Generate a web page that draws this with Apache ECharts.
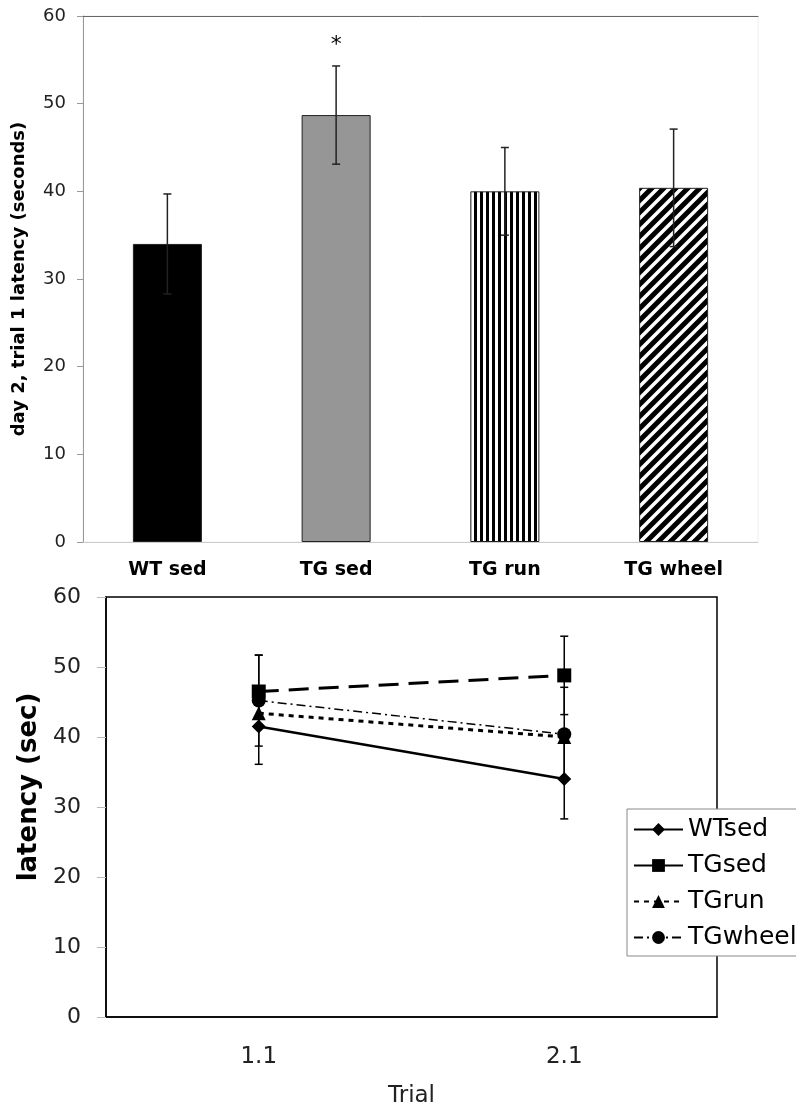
<!DOCTYPE html>
<html>
<head>
<meta charset="utf-8">
<script src="https://cdn.jsdelivr.net/npm/echarts@6/dist/echarts.min.js"></script>
<style>
html, body { margin: 0; padding: 0; background: #fff; }
#chart { width: 796px; height: 1115px; }
</style>
</head>
<body>
<div id="chart"></div>
<script>
// top panel: day 2, trial 1 latency per group
var groups = ['WT sed', 'TG sed', 'TG run', 'TG wheel'];
var day2Mean = [34.0, 48.7, 40.0, 40.4];
var day2Sem = [5.7, 5.6, 5.0, 6.7];
var day2Sig = ['', '*', '', ''];

// bottom panel: latency per trial
var trials = ['1.1', '2.1'];
var wtSed = [41.5, 34.0];
var tgSed = [46.5, 48.8];
var tgRun = [43.4, 40.0];
var tgWheel = [45.2, 40.4];
var wtSedErr = [5.4, 5.7];
var tgSedErr = [5.2, 5.6];
var tgWheelErr = [6.5, 6.7];

// shared y scale (seconds)
var yMin = 0, yMax = 60, yStep = 10;

// hatch fills for the striped bars
function tile(w, h, draw) {
  var c = document.createElement('canvas');
  c.width = w; c.height = h;
  var g = c.getContext('2d');
  g.fillStyle = '#fff';
  g.fillRect(0, 0, w, h);
  draw(g);
  return c;
}
var vStripe = tile(6, 6, function (g) {
  g.fillStyle = '#000';
  g.fillRect(0, 0, 3, 6);
});
var dStripe = tile(12, 12, function (g) {
  g.strokeStyle = '#000';
  g.lineWidth = 5;
  g.beginPath();
  g.moveTo(-3, 15); g.lineTo(15, -3);
  g.moveTo(-3, 3); g.lineTo(3, -3);
  g.moveTo(9, 15); g.lineTo(15, 9);
  g.stroke();
});
var barFill = ['#000', '#969696', { image: vStripe, repeat: 'repeat' }, { image: dStripe, repeat: 'repeat' }];

function errorBars(capHalf, color, width) {
  return function (params, api) {
    var x = api.value(0), m = api.value(1), e = api.value(2);
    var hi = api.coord([x, m + e]);
    var lo = api.coord([x, m - e]);
    var st = { stroke: color, lineWidth: width };
    return {
      type: 'group',
      children: [
        { type: 'line', shape: { x1: hi[0], y1: hi[1], x2: lo[0], y2: lo[1] }, style: st },
        { type: 'line', shape: { x1: hi[0] - capHalf, y1: hi[1], x2: hi[0] + capHalf, y2: hi[1] }, style: st },
        { type: 'line', shape: { x1: lo[0] - capHalf, y1: lo[1], x2: lo[0] + capHalf, y2: lo[1] }, style: st }
      ]
    };
  };
}

function withErr(means, errs) {
  return means.map(function (v, i) { return [i, v, errs[i]]; });
}

var chart = echarts.init(document.getElementById('chart'));
var font = 'DejaVu Sans';

var option = {
  animation: false,
  textStyle: { fontFamily: font },
  grid: [
    { left: 83, top: 16, width: 675, height: 526, show: true, borderColor: '#eee', borderWidth: 1, outerBoundsMode: 'none' },
    { left: 106, top: 597, width: 611, height: 420, show: true, borderColor: '#000', borderWidth: 1.5, outerBoundsMode: 'none' }
  ],
  legend: {
    orient: 'vertical',
    left: 627,
    top: 809,
    data: ['WTsed', 'TGsed', 'TGrun', 'TGwheel'],
    borderColor: '#888',
    borderWidth: 1,
    borderRadius: 0,
    backgroundColor: '#fff',
    padding: [8, 30, 6, 6],
    itemWidth: 49,
    itemHeight: 16,
    itemGap: 11,
    textStyle: { fontSize: 25, color: '#000', fontFamily: font }
  },
  xAxis: [
    {
      gridIndex: 0, type: 'category', data: groups,
      axisLine: { lineStyle: { color: '#ccc', width: 1 } },
      axisTick: { length: 6, lineStyle: { color: '#bbb' } },
      axisLabel: { margin: 19, fontSize: 19, fontWeight: 'bold', color: '#000', fontFamily: font }
    },
    {
      gridIndex: 0, type: 'category', data: groups, position: 'top',
      axisLine: { lineStyle: { color: '#666', width: 1 } },
      axisTick: { show: false }, axisLabel: { show: false }
    },
    {
      gridIndex: 1, type: 'category', data: trials,
      name: 'Trial', nameLocation: 'middle', nameGap: 68,
      nameTextStyle: { fontSize: 23, color: '#222', fontFamily: font },
      axisLine: { lineStyle: { color: '#000', width: 1.5 } },
      axisTick: { length: 8, lineStyle: { color: '#bbb' } },
      axisLabel: { margin: 29, fontSize: 23, color: '#222', fontFamily: font }
    }
  ],
  yAxis: [
    {
      gridIndex: 0, type: 'value', min: yMin, max: yMax, interval: yStep,
      name: 'day 2, trial 1 latency (seconds)', nameLocation: 'middle', nameGap: 55,
      nameTextStyle: { fontSize: 18, fontWeight: 'bold', color: '#000', fontFamily: font },
      axisLine: { show: true, lineStyle: { color: '#999' } },
      axisTick: { show: true, length: 6, lineStyle: { color: '#999' } },
      axisLabel: { margin: 17, fontSize: 18, color: '#222', fontFamily: font },
      splitLine: { show: false }
    },
    {
      gridIndex: 1, type: 'value', min: yMin, max: yMax, interval: yStep,
      name: 'latency (sec)', nameLocation: 'middle', nameGap: 63,
      nameTextStyle: { fontSize: 26, fontWeight: 'bold', color: '#000', fontFamily: font, padding: [0, 0, 0, 40] },
      axisLine: { show: true, lineStyle: { color: '#000', width: 1.5 } },
      axisTick: { show: true, length: 9, lineStyle: { color: '#bbb' } },
      axisLabel: { margin: 25, fontSize: 22, color: '#222', fontFamily: font },
      splitLine: { show: false }
    }
  ],
  series: [
    {
      type: 'bar', xAxisIndex: 0, yAxisIndex: 0, barWidth: 69, z: 2,
      data: day2Mean.map(function (v, i) {
        return {
          value: v,
          itemStyle: { color: barFill[i], borderColor: '#222', borderWidth: 1 },
          label: { show: day2Sig[i] !== '', position: 'top', distance: 59, formatter: day2Sig[i], fontSize: 22, color: '#000' }
        };
      })
    },
    {
      type: 'custom', xAxisIndex: 0, yAxisIndex: 0, z: 3,
      renderItem: errorBars(4, '#222', 1.5),
      encode: { x: 0, y: 1 },
      data: withErr(day2Mean, day2Sem)
    },
    {
      name: 'WTsed', type: 'line', xAxisIndex: 2, yAxisIndex: 1, z: 4, data: wtSed,
      symbol: 'diamond', symbolSize: 14,
      itemStyle: { color: '#000' },
      lineStyle: { color: '#000', width: 2.5, type: 'solid' }
    },
    {
      name: 'TGsed', type: 'line', xAxisIndex: 2, yAxisIndex: 1, z: 4, data: tgSed,
      symbol: 'rect', symbolSize: 14,
      itemStyle: { color: '#000' },
      lineStyle: { color: '#000', width: 3, type: [20, 10] }
    },
    {
      name: 'TGrun', type: 'line', xAxisIndex: 2, yAxisIndex: 1, z: 4, data: tgRun,
      symbol: 'triangle', symbolSize: 14,
      itemStyle: { color: '#000' },
      lineStyle: { color: '#000', width: 3, type: [5, 5] }
    },
    {
      name: 'TGwheel', type: 'line', xAxisIndex: 2, yAxisIndex: 1, z: 4, data: tgWheel,
      symbol: 'circle', symbolSize: 14,
      itemStyle: { color: '#000' },
      lineStyle: { color: '#000', width: 1.5, type: [9, 4, 2, 4] }
    },
    {
      type: 'custom', xAxisIndex: 2, yAxisIndex: 1, z: 3,
      renderItem: errorBars(4, '#000', 1.5), encode: { x: 0, y: 1 },
      data: withErr(wtSed, wtSedErr)
    },
    {
      type: 'custom', xAxisIndex: 2, yAxisIndex: 1, z: 3,
      renderItem: errorBars(4, '#000', 1.5), encode: { x: 0, y: 1 },
      data: withErr(tgSed, tgSedErr)
    },
    {
      type: 'custom', xAxisIndex: 2, yAxisIndex: 1, z: 3,
      renderItem: errorBars(4, '#000', 1.5), encode: { x: 0, y: 1 },
      data: withErr(tgWheel, tgWheelErr)
    }
  ]
};

chart.setOption(option);
</script>
</body>
</html>
